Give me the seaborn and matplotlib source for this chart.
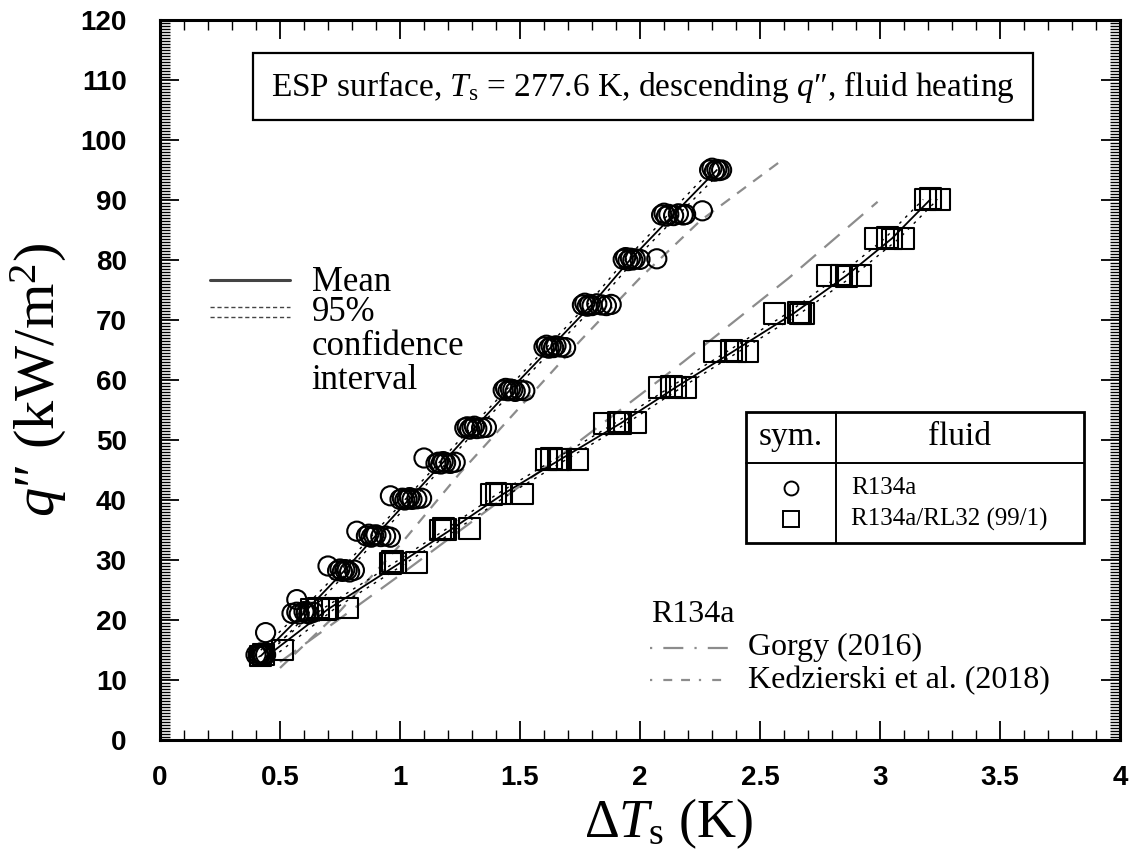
import numpy as np
import pandas as pd
import matplotlib
matplotlib.use("Agg")
import matplotlib.pyplot as plt
import seaborn as sns
from matplotlib import font_manager as fm
from matplotlib.patches import Rectangle
from matplotlib.lines import Line2D
from matplotlib.ticker import MultipleLocator

# ---------------- data ----------------
r134a_dT = [0.40, 0.41, 0.41, 0.42, 0.42, 0.43, 0.43, 0.44,
            0.44,
            0.55, 0.57, 0.58, 0.60, 0.61, 0.62, 0.64,
            0.57,
            0.74, 0.75, 0.76, 0.77, 0.78, 0.79, 0.81,
            0.70,
            0.86, 0.87, 0.88, 0.89, 0.90, 0.92, 0.94, 0.96,
            0.82,
            1.00, 1.01, 1.02, 1.03, 1.04, 1.05, 1.07, 1.09,
            0.96,
            1.15, 1.16, 1.17, 1.18, 1.19, 1.21, 1.23,
            1.10,
            1.27, 1.28, 1.29, 1.30, 1.31, 1.32, 1.34, 1.36,
            1.43, 1.44, 1.45, 1.46, 1.47, 1.48, 1.50, 1.52,
            1.60, 1.61, 1.62, 1.63, 1.64, 1.65, 1.67, 1.69,
            1.76, 1.77, 1.78, 1.79, 1.80, 1.82, 1.84, 1.86, 1.88,
            1.93, 1.94, 1.95, 1.96, 1.97, 1.98, 2.00,
            2.07,
            2.09, 2.10, 2.11, 2.12, 2.14, 2.16, 2.18, 2.19,
            2.26,
            2.29, 2.30, 2.31, 2.32, 2.33, 2.34]
r134a_q = [14.2, 14.4, 14.0, 14.3, 14.5, 14.1, 14.3, 14.2,
           17.9,
           21.1, 21.3, 21.0, 21.4, 21.2, 21.0, 21.3,
           23.4,
           28.2, 28.5, 28.1, 28.4, 28.3, 28.0, 28.3,
           29.0,
           34.0, 34.3, 33.8, 34.1, 34.2, 33.9, 34.0, 33.8,
           34.8,
           40.1, 40.3, 40.0, 40.2, 40.4, 40.1, 40.2, 40.3,
           40.7,
           46.1, 46.3, 46.0, 46.4, 46.2, 46.1, 46.3,
           47.0,
           52.0, 52.2, 51.8, 52.1, 52.3, 51.9, 52.0, 52.1,
           58.3, 58.6, 58.2, 58.5, 58.4, 58.1, 58.3, 58.2,
           65.5, 65.8, 65.3, 65.6, 65.4, 65.7, 65.5, 65.4,
           72.5, 72.8, 72.3, 72.6, 72.4, 72.7, 72.5, 72.4, 72.6,
           80.1, 80.4, 79.9, 80.3, 80.0, 80.2, 80.1,
           80.2,
           87.5, 87.8, 87.3, 87.6, 87.4, 87.7, 87.5, 87.6,
           88.2,
           95.0, 95.3, 94.8, 95.1, 94.9, 95.0]

blend_dT = [0.42, 0.43, 0.51,
            0.63, 0.66, 0.69, 0.70, 0.78,
            0.96, 0.97, 0.98, 1.07,
            1.17, 1.18, 1.19, 1.29,
            1.38, 1.40, 1.42, 1.51,
            1.61, 1.63, 1.66, 1.67, 1.74,
            1.85, 1.91, 1.92, 1.98,
            2.08, 2.13, 2.15, 2.19,
            2.31, 2.38, 2.40, 2.45,
            2.56, 2.66, 2.67, 2.68,
            2.78, 2.84, 2.86, 2.92,
            2.98, 3.03, 3.05, 3.10,
            3.19, 3.21, 3.25]
blend_q = [14.0, 14.2, 15.0,
           21.8, 22.0, 21.7, 21.9, 22.0,
           29.4, 29.7, 29.5, 29.6,
           35.0, 35.3, 35.1, 35.2,
           40.9, 41.1, 41.0, 41.0,
           46.8, 46.9, 46.7, 46.8, 46.8,
           52.8, 53.0, 52.7, 52.9,
           58.7, 58.9, 58.8, 58.8,
           64.8, 64.9, 64.7, 64.8,
           71.1, 71.2, 71.0, 71.1,
           77.4, 77.5, 77.3, 77.4,
           83.6, 83.7, 83.5, 83.6,
           90.1, 90.2, 90.1]

# mean fits and 95 % confidence interval (x positions at the same q)
r134a_mean_q = [14.0, 21.2, 28.3, 34.1, 40.2, 46.3, 52.0, 58.4, 65.5, 72.6, 80.1, 87.6, 95.0]
r134a_mean_dT = [0.42, 0.60, 0.77, 0.90, 1.04, 1.18, 1.31, 1.46, 1.63, 1.80, 1.96, 2.14, 2.32]
r134a_ci_lo_dT = [0.395, 0.58, 0.752, 0.884, 1.024, 1.164, 1.294, 1.444, 1.613, 1.782, 1.941, 2.119, 2.295]
r134a_ci_hi_dT = [0.445, 0.62, 0.788, 0.916, 1.056, 1.196, 1.326, 1.476, 1.647, 1.818, 1.979, 2.161, 2.345]

blend_mean_q = [13.8, 21.8, 29.5, 35.0, 41.0, 46.8, 52.8, 58.8, 64.8, 71.1, 77.4, 83.6, 90.1]
blend_mean_dT = [0.44, 0.70, 1.00, 1.21, 1.43, 1.67, 1.92, 2.15, 2.39, 2.64, 2.86, 3.05, 3.21]
blend_ci_lo_dT = [0.41, 0.675, 0.975, 1.187, 1.405, 1.645, 1.895, 2.125, 2.365, 2.613, 2.83, 3.02, 3.18]
blend_ci_hi_dT = [0.47, 0.725, 1.025, 1.233, 1.455, 1.695, 1.945, 2.175, 2.415, 2.667, 2.89, 3.08, 3.24]

gorgy_dT = [0.50, 0.99, 1.59, 2.18, 2.62, 2.99]
gorgy_q = [13.0, 27.2, 45.0, 63.0, 77.0, 89.7]

kedz_dT = [0.50, 0.75, 1.00, 1.25, 1.50, 1.75, 2.00, 2.25, 2.58]
kedz_q = [12.0, 21.5, 32.5, 44.5, 55.5, 66.5, 77.0, 86.5, 96.3]

x_ticks = [0, 0.5, 1, 1.5, 2, 2.5, 3, 3.5, 4]
x_tick_labels = ["0", "0.5", "1", "1.5", "2", "2.5", "3", "3.5", "4"]
y_ticks = list(range(0, 121, 10))
y_tick_labels = [str(v) for v in y_ticks]

# ---------------- style ----------------
sns.set_theme(style="ticks")
names = {f.name for f in fm.fontManager.ttflist}
tick_font = "Liberation Sans Narrow" if "Liberation Sans Narrow" in names else "Liberation Sans"
plt.rcParams["font.family"] = ["Liberation Serif", "DejaVu Serif"]
plt.rcParams["mathtext.fontset"] = "custom"
plt.rcParams["mathtext.rm"] = "Liberation Serif"
plt.rcParams["mathtext.it"] = "Liberation Serif:italic"
plt.rcParams["mathtext.bf"] = "Liberation Serif:bold"

fig = plt.figure(figsize=(11.36, 8.67), dpi=100)
ax = fig.add_axes([160 / 1136, 1 - 740 / 867, 960 / 1136, 720 / 867])

gray = "#8c8c8c"

# reference correlations
sns.lineplot(x=gorgy_dT, y=gorgy_q, sort=False, estimator=None, ax=ax,
             color=gray, linewidth=1.6, linestyle=(0, (9, 5)))
sns.lineplot(x=kedz_dT, y=kedz_q, sort=False, estimator=None, ax=ax,
             color=gray, linewidth=1.6, linestyle=(0, (5, 4)))

# mean and CI lines
for mdT, mq, lo, hi in [(r134a_mean_dT, r134a_mean_q, r134a_ci_lo_dT, r134a_ci_hi_dT),
                        (blend_mean_dT, blend_mean_q, blend_ci_lo_dT, blend_ci_hi_dT)]:
    sns.lineplot(x=mdT, y=mq, sort=False, estimator=None, ax=ax, color="black", linewidth=1.3)
    sns.lineplot(x=lo, y=mq, sort=False, estimator=None, ax=ax, color="black",
                 linewidth=1.0, linestyle=(0, (2, 4)))
    sns.lineplot(x=hi, y=mq, sort=False, estimator=None, ax=ax, color="black",
                 linewidth=1.0, linestyle=(0, (2, 4)))

# data points
sns.scatterplot(x=r134a_dT, y=r134a_q, marker="o", s=190, facecolor="none",
                edgecolor="black", linewidth=1.5, ax=ax, zorder=5)
sns.scatterplot(x=blend_dT, y=blend_q, marker="s", s=220, facecolor="none",
                edgecolor="black", linewidth=1.5, ax=ax, zorder=5)

# axes
ax.set_xlim(0, 4)
ax.set_ylim(0, 120)
ax.set_xticks(x_ticks)
ax.set_xticklabels(x_tick_labels)
ax.set_yticks(y_ticks)
ax.set_yticklabels(y_tick_labels)
ax.xaxis.set_minor_locator(MultipleLocator(0.1))
ax.yaxis.set_minor_locator(MultipleLocator(0.5))
ax.tick_params(which="both", direction="in", top=True, right=True, color="black")
ax.tick_params(which="major", length=14, width=1.3)
ax.tick_params(which="minor", length=7, width=1.0)
ax.tick_params(axis="x", which="major", pad=18)
ax.tick_params(axis="y", which="major", pad=24)
for lab in ax.get_xticklabels() + ax.get_yticklabels():
    lab.set_fontfamily(tick_font)
    lab.set_fontweight("bold")
    lab.set_fontsize(20)
    lab.set_color("black")
for sp in ax.spines.values():
    sp.set_linewidth(2.2)
    sp.set_color("black")

ax.set_xlabel(r"$\Delta T_\mathrm{s}$ (K)", fontsize=39, color="black")
ax.xaxis.set_label_coords(0.53, -0.078)
ax.set_ylabel(r"$q$" + "\u2033 (kW/m" + r"$^2$" + ")", fontsize=42, labelpad=8, color="black")

# title box
ax.add_patch(Rectangle((0.097, 0.861), 0.812, 0.093, transform=ax.transAxes,
                       fill=False, edgecolor="black", linewidth=1.6, zorder=6))
ax.text(0.503, 0.907, r"ESP surface, $T_\mathrm{s}$ = 277.6 K, descending $q$" + "\u2033, fluid heating",
        transform=ax.transAxes, ha="center", va="center", fontsize=24, color="black")

# mean / CI legend
ax.add_line(Line2D([0.052, 0.135], [0.639, 0.639], transform=ax.transAxes,
                   color="#444444", linewidth=2.2))
for yy in (0.601, 0.588):
    ax.add_line(Line2D([0.052, 0.135], [yy, yy], transform=ax.transAxes,
                       color="#444444", linewidth=1.0, linestyle=(0, (3, 2))))
for txt, yy in [("Mean", 0.636), ("95%", 0.594), ("confidence", 0.546), ("interval", 0.500)]:
    ax.text(0.158, yy, txt, transform=ax.transAxes, ha="left", va="center",
            fontsize=25, color="black")

# symbol / fluid table
x0, x1, xd = 0.610, 0.9625, 0.704
y0, y1, yh = 0.2736, 0.4556, 0.385
ax.add_patch(Rectangle((x0, y0), x1 - x0, y1 - y0, transform=ax.transAxes,
                       fill=False, edgecolor="black", linewidth=2.0, zorder=6))
ax.add_line(Line2D([x0, x1], [yh, yh], transform=ax.transAxes, color="black", linewidth=1.4))
ax.add_line(Line2D([xd, xd], [y0, y1], transform=ax.transAxes, color="black", linewidth=1.4))
ax.text((x0 + xd) / 2, 0.421, "sym.", transform=ax.transAxes, ha="center", va="center",
        fontsize=24, color="black")
ax.text((xd + x1) / 2, 0.421, "fluid", transform=ax.transAxes, ha="center", va="center",
        fontsize=24, color="black")
ax.add_line(Line2D([(x0 + xd) / 2], [0.350], transform=ax.transAxes, marker="o",
                   markersize=10, markerfacecolor="none", markeredgecolor="black",
                   markeredgewidth=1.4, linestyle="none"))
ax.add_line(Line2D([(x0 + xd) / 2], [0.307], transform=ax.transAxes, marker="s",
                   markersize=11, markerfacecolor="none", markeredgecolor="black",
                   markeredgewidth=1.4, linestyle="none"))
ax.text(0.720, 0.350, "R134a", transform=ax.transAxes, ha="left", va="center",
        fontsize=18, color="black")
ax.text(0.720, 0.307, "R134a/RL32 (99/1)", transform=ax.transAxes, ha="left", va="center",
        fontsize=18, color="black")

# correlation legend
ax.text(0.512, 0.174, "R134a", transform=ax.transAxes, ha="left", va="center",
        fontsize=23, color="black")
ax.add_line(Line2D([0.510, 0.592], [0.128, 0.128], transform=ax.transAxes,
                   color=gray, linewidth=1.6, linestyle=(0, (1, 5, 9, 5))))
ax.add_line(Line2D([0.510, 0.592], [0.083, 0.083], transform=ax.transAxes,
                   color=gray, linewidth=1.6, linestyle=(0, (1, 5, 4, 4, 4, 4))))
ax.text(0.6125, 0.128, "Gorgy (2016)", transform=ax.transAxes, ha="left", va="center",
        fontsize=23, color="black")
ax.text(0.6125, 0.083, "Kedzierski et al. (2018)", transform=ax.transAxes, ha="left",
        va="center", fontsize=23, color="black")

fig.savefig("out.png", dpi=100)
